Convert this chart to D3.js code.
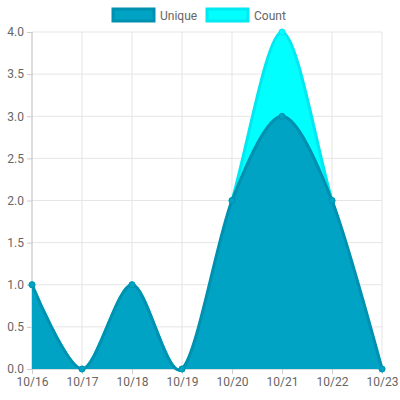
<!DOCTYPE html>
<html><head><meta charset="utf-8">
<script src="https://cdn.jsdelivr.net/npm/d3@7"></script>
<style>body{margin:0;background:#fff}text{font-family:Roboto,"Liberation Sans",sans-serif}</style>
</head><body><div class="chart"></div>
<script>
const labels = ["10/16","10/17","10/18","10/19","10/20","10/21","10/22","10/23"];
const unique = [1,0,1,0,2,3,2,0];
const count = [1,0,1,0,2,4,2,0];
const yTicks = [0,0.5,1,1.5,2,2.5,3,3.5,4];

const margin = {top: 32, right: 18, bottom: 31, left: 32};
const width = 400 - margin.left - margin.right,
      height = 400 - margin.top - margin.bottom;

const svg = d3.select(".chart").append("svg")
    .attr("width", 400).attr("height", 400)
  .append("g")
    .attr("transform", `translate(${margin.left},${margin.top})`);

const x = d3.scalePoint().domain(labels).range([0, width]);
const y = d3.scaleLinear().domain([0, 4]).range([height, 0]);

// grid
svg.append("g").selectAll("line").data(yTicks).join("line")
  .attr("x1", 0).attr("x2", width).attr("y1", d => y(d)).attr("y2", d => y(d))
  .attr("stroke", d => d === 0 ? "#bbb" : "#e5e5e5");
svg.append("g").selectAll("line").data(labels).join("line")
  .attr("x1", d => x(d)).attr("x2", d => x(d)).attr("y1", 0).attr("y2", height)
  .attr("stroke", (d, i) => i === 0 ? "#bbb" : "#e5e5e5");

const yAxis = svg.append("g").call(d3.axisLeft(y).tickValues(yTicks).tickFormat(d3.format(".1f")).tickSize(5));
const xAxis = svg.append("g").attr("transform", `translate(0,${height})`).call(d3.axisBottom(x).tickSize(5));
[yAxis, xAxis].forEach(a => {
  a.select(".domain").remove();
  a.selectAll("line").attr("stroke", "#ccc");
  a.selectAll("text").attr("fill", "#666").style("font-size", "12px");
});

const curve = d3.curveCardinal.tension(0.1);
const area = d3.area().x((d, i) => x(labels[i])).y0(height).y1(d => y(d)).curve(curve);
const line = d3.line().x((d, i) => x(labels[i])).y(d => y(d)).curve(curve);

const series = [
  {name: "Count", data: count, fill: "#00ffff", stroke: "#00e8f0"},
  {name: "Unique", data: unique, fill: "#00a3c4", stroke: "#0090b0"}
];
series.forEach(s => {
  svg.append("path").datum(s.data).attr("d", area).attr("fill", s.fill);
  svg.append("path").datum(s.data).attr("d", line).attr("fill", "none").attr("stroke", s.stroke).attr("stroke-width", 3);
  svg.append("g").selectAll("circle").data(s.data).join("circle")
    .attr("cx", (d, i) => x(labels[i])).attr("cy", d => y(d)).attr("r", 3)
    .attr("fill", s.fill).attr("stroke", s.stroke);
});

// legend
const legend = d3.select("svg").append("g");
const leg = [series[1], series[0]];
const lx = [113, 207];
leg.forEach((s, i) => {
  legend.append("rect").attr("x", lx[i]).attr("y", 9).attr("width", 41).attr("height", 12)
    .attr("fill", s.fill).attr("stroke", s.stroke).attr("stroke-width", 3);
  legend.append("text").attr("x", lx[i] + 47).attr("y", 20).text(s.name)
    .attr("fill", "#666").style("font-size", "12px");
});
</script></body></html>
